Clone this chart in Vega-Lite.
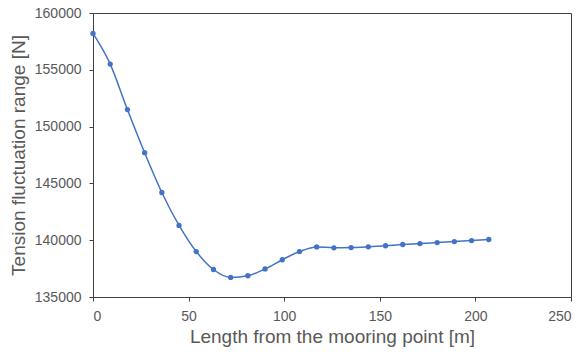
{
  "$schema": "https://vega.github.io/schema/vega-lite/v6.json",
  "width": 478,
  "height": 284,
  "autosize": {"type": "none"},
  "padding": {"left": 93, "top": 13, "right": 12, "bottom": 55},
  "background": "white",
  "config": {
    "font": "Liberation Sans",
    "view": {"stroke": "#404040", "strokeWidth": 1},
    "axis": {
      "grid": false,
      "domainColor": "#404040",
      "tickColor": "#404040",
      "tickSize": 4,
      "labelColor": "#595959",
      "labelFontSize": 14,
      "labelFont": "Liberation Sans",
      "titleColor": "#595959",
      "titleFontSize": 19,
      "titleFontWeight": "normal",
      "titleFont": "Liberation Sans"
    }
  },
  "data": {
    "values": [
      {"x": 0, "y": 158200},
      {"x": 9, "y": 155500},
      {"x": 18, "y": 151500},
      {"x": 27, "y": 147700},
      {"x": 36, "y": 144200},
      {"x": 45, "y": 141300},
      {"x": 54, "y": 139000},
      {"x": 63, "y": 137420},
      {"x": 72, "y": 136720},
      {"x": 81, "y": 136870},
      {"x": 90, "y": 137470},
      {"x": 99, "y": 138280},
      {"x": 108, "y": 139000},
      {"x": 117, "y": 139410},
      {"x": 126, "y": 139330},
      {"x": 135, "y": 139350},
      {"x": 144, "y": 139420},
      {"x": 153, "y": 139510},
      {"x": 162, "y": 139620},
      {"x": 171, "y": 139700},
      {"x": 180, "y": 139790},
      {"x": 189, "y": 139880},
      {"x": 198, "y": 139970},
      {"x": 207, "y": 140060}
    ]
  },
  "encoding": {
    "x": {
      "field": "x",
      "type": "quantitative",
      "scale": {"domain": [0, 250], "nice": false, "zero": false},
      "axis": {"values": [0, 50, 100, 150, 200, 250], "title": "Length from the mooring point [m]", "titlePadding": 4, "labelPadding": 8}
    },
    "y": {
      "field": "y",
      "type": "quantitative",
      "scale": {"domain": [135000, 160000], "nice": false, "zero": false},
      "axis": {"values": [135000, 140000, 145000, 150000, 155000, 160000], "format": "d", "title": "Tension fluctuation range [N]", "titlePadding": 6, "labelPadding": 8}
    }
  },
  "layer": [
    {"mark": {"type": "line", "color": "#4472C4", "strokeWidth": 1.5, "interpolate": "monotone"}},
    {"mark": {"type": "point", "filled": true, "color": "#4472C4", "size": 28, "opacity": 1}}
  ]
}
